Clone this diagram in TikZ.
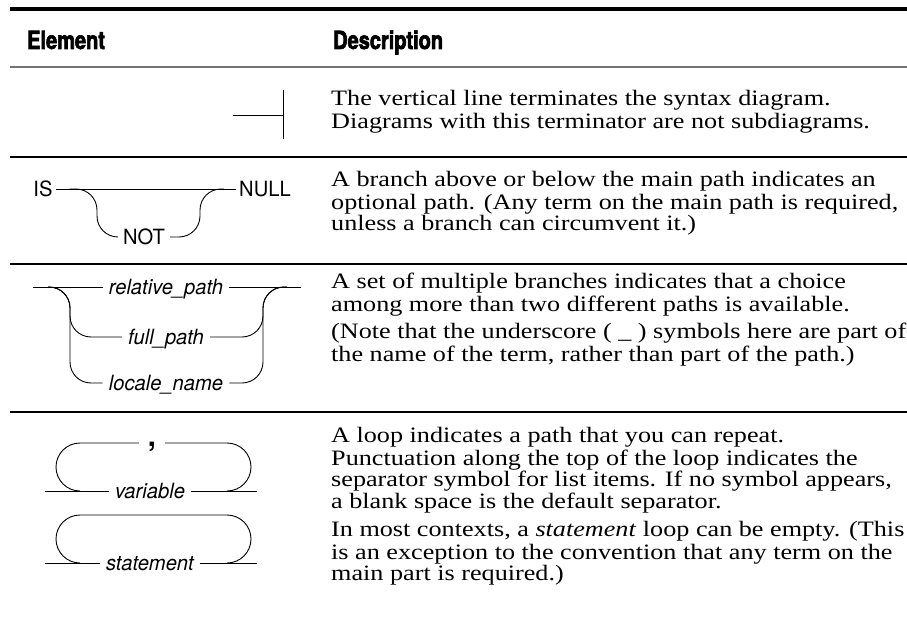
\documentclass[tikz,border=0pt]{standalone}
\usepackage{fontspec}
\setmainfont{Liberation Serif}[FakeStretch=1.19]
\newfontfamily\synfont{TeX Gyre Heros}[FakeStretch=0.96]
\newfontfamily\headfont{TeX Gyre Heros}[FakeStretch=0.8,BoldFeatures={FakeBold=2.5}]
\begin{document}
\begin{tikzpicture}[x=1pt,y=-1pt,
  rule/.style={line width=1.2pt},
  syn/.style={line width=0.9pt},
  lbl/.style={font=\synfont\fontsize{21}{21}\selectfont,inner ysep=3pt,inner xsep=3pt,text height=15pt,text depth=0pt},
  ilbl/.style={lbl,inner xsep=6pt,font=\synfont\itshape\fontsize{21}{21}\selectfont},
  head/.style={anchor=west,inner sep=0pt,font=\headfont\bfseries\fontsize{25}{25}\selectfont,text height=18pt,text depth=0pt},
  desc/.style={anchor=north west,inner sep=0pt,align=left,font=\fontsize{22}{21.5}\selectfont}]
\useasboundingbox (0,0) rectangle (907,639);

% table rules
\draw[line width=3.5pt] (10,9)--(907,9);
\draw[line width=2pt,black!55] (10,67)--(907,67);
\foreach \y in {157,264,412}{\draw[rule] (10,\y)--(907,\y);}

\node[head] (elem) at (27,40) {Element};
\node[head] (descr) at (333,40) {Description};

%%%------------------------------------------------------------------------------------------------------------
% terminator
\coordinate (tbeg) at (233,115);
\coordinate (tend) at (283,115);
\coordinate (ttop) at (283,90);
\coordinate (tbot) at (283,139);
\draw[syn] (tbeg)--(tend);
\draw[syn] (ttop)--(tbot);
\node[desc] (txta) at (331,90) {\strut The vertical line terminates the syntax diagram.\\
  Diagrams with this terminator are not subdiagrams.};

%%%------------------------------------------------------------------------------------------------------------
% optional branch
\node[lbl] (is) at (43,189) {IS};
\node[lbl] (null) at (265,189) {NULL};
\node[lbl,inner xsep=5pt] (not) at (144,237) {NOT};
\draw[syn] (is)--(null);
\draw[syn,rounded corners=21pt] ([xshift=14pt]is.east) -| (97,237) -- (not);
\draw[syn,rounded corners=21pt] (not) -| (200,189) -- ([xshift=-12pt]null.west);
\node[desc] (txtb) at (331,171) {\strut A branch above or below the main path indicates an\\
  optional path. (Any term on the main path is required,\\
  unless a branch can circumvent it.)};

%%%------------------------------------------------------------------------------------------------------------
% choice
\coordinate (cl) at (33,287);
\coordinate (cr) at (301,287);
\node[ilbl] (relp) at (166,287) {relative\_path};
\node[ilbl] (fullp) at (166,337) {full\_path};
\node[ilbl] (locn) at (166,383) {locale\_name};
\draw[syn] (cl)--(relp)--(cr);
\draw[syn,rounded corners=21pt] (48,287) -| (70,337) -- (fullp);
\draw[syn,rounded corners=21pt] (48,287) -| (70,383) -- (locn);
\draw[syn,rounded corners=21pt] (fullp) -| (263,287) -- (287,287);
\draw[syn,rounded corners=21pt] (locn) -| (263,287) -- (287,287);
\node[desc] (txtc) at (331,273) {\strut A set of multiple branches indicates that a choice\\
  among more than two different paths is available.};
\node[desc] (txtd) at (331,323) {\strut (Note that the underscore ( \_ ) symbols here are part of\\
  the name of the term, rather than part of the path.)};

%%%------------------------------------------------------------------------------------------------------------
% loops
\coordinate (vl) at (45,491);
\coordinate (vr) at (257,491);
\node[ilbl] (var) at (150,491) {variable};
\node[lbl,font=\synfont\bfseries\fontsize{30}{30}\selectfont,text height=6pt,inner xsep=9pt] (sep) at (152,443) {,};
\draw[syn] (vl)--(var)--(vr);
\draw[syn,rounded corners=24pt] (80,491)--(56,491)--(56,443)--(sep.west);
\draw[syn,rounded corners=24pt] (sep.east)--(251,443)--(251,491)--(227,491);

\coordinate (sl) at (45,563);
\coordinate (sr) at (257,563);
\node[ilbl] (stmt) at (150,563) {statement};
\draw[syn] (sl)--(stmt)--(sr);
\draw[syn,rounded corners=24pt] (80,563)--(56,563)--(56,515)--(251,515)--(251,563)--(227,563);
\node[desc] (txte) at (331,427) {\strut A loop indicates a path that you can repeat.\\
  Punctuation along the top of the loop indicates the\\
  separator symbol for list items. If no symbol appears,\\
  a blank space is the default separator.};
\node[desc] (txtf) at (331,521) {\strut In most contexts, a \textit{statement} loop can be empty. (This\\
  is an exception to the convention that any term on the\\
  main part is required.)};
\end{tikzpicture}
\end{document}
